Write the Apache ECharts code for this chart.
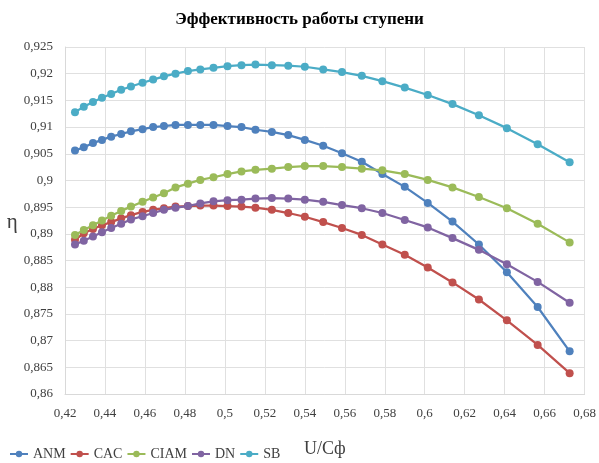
<!DOCTYPE html>
<html>
<head>
<meta charset="utf-8">
<script src="https://cdn.jsdelivr.net/npm/echarts@6/dist/echarts.min.js"></script>
<style>html,body{margin:0;padding:0;background:#fff}#c{width:599px;height:463px}</style>
</head>
<body>
<div id="c"></div>
<script>
var xValues = [0.4250,0.4294,0.4340,0.4385,0.4431,0.4481,0.4530,0.4588,0.4641,0.4695,0.4753,0.4815,0.4877,0.4943,0.5013,0.5083,0.5153,0.5235,0.5317,0.5400,0.5492,0.5586,0.5685,0.5788,0.5900,0.6015,0.6139,0.6271,0.6411,0.6565,0.6725];
var ANM  = [0.9056,0.9062,0.9070,0.9076,0.9082,0.9087,0.9092,0.9096,0.9100,0.9102,0.9104,0.9104,0.9104,0.9104,0.9102,0.9100,0.9095,0.9091,0.9085,0.9076,0.9065,0.9051,0.9035,0.9012,0.8988,0.8958,0.8923,0.8880,0.8828,0.8763,0.8680];
var CAC  = [0.8889,0.8901,0.8909,0.8916,0.8922,0.8929,0.8935,0.8941,0.8945,0.8948,0.8951,0.8952,0.8953,0.8953,0.8952,0.8951,0.8949,0.8945,0.8939,0.8932,0.8922,0.8911,0.8898,0.8880,0.8861,0.8837,0.8809,0.8777,0.8738,0.8692,0.8639];
var CIAM = [0.8898,0.8907,0.8916,0.8925,0.8934,0.8943,0.8951,0.8960,0.8968,0.8976,0.8987,0.8994,0.9001,0.9006,0.9012,0.9017,0.9020,0.9022,0.9025,0.9027,0.9027,0.9025,0.9022,0.9019,0.9012,0.9001,0.8987,0.8969,0.8948,0.8919,0.8884];
var DN   = [0.8880,0.8887,0.8895,0.8903,0.8911,0.8919,0.8927,0.8933,0.8939,0.8945,0.8949,0.8952,0.8957,0.8961,0.8963,0.8964,0.8966,0.8967,0.8966,0.8964,0.8960,0.8954,0.8948,0.8939,0.8926,0.8912,0.8892,0.8870,0.8843,0.8810,0.8771];
var SB   = [0.9128,0.9138,0.9147,0.9155,0.9162,0.9170,0.9176,0.9183,0.9189,0.9195,0.9200,0.9205,0.9208,0.9211,0.9214,0.9216,0.9217,0.9216,0.9215,0.9213,0.9208,0.9203,0.9196,0.9186,0.9174,0.9160,0.9143,0.9122,0.9098,0.9068,0.9034];
var seriesNames = ['ANM','CAC','CIAM','DN','SB'];
var seriesData = [ANM, CAC, CIAM, DN, SB];
var colors = ['#4F81BD','#C0504D','#9BBB59','#8064A2','#4BACC6'];
var titleText = 'Эффективность работы ступени';
var xName = 'U/Cф';
var yName = 'η';

function fmt(v){ return String(Number(v.toFixed(4))).replace('.', ','); }
var serif = '"Liberation Serif", "Times New Roman", serif';

var chart = echarts.init(document.getElementById('c'), null, {renderer:'canvas'});
chart.setOption({
  animation: false,
  color: colors,
  title: {
    text: titleText, left: 'center', top: 6,
    textStyle: {fontFamily: serif, fontSize: 17, fontWeight: 'bold', color: '#000'}
  },
  legend: {
    left: 4, top: 442, itemWidth: 18, itemHeight: 8, itemGap: 4,
    textStyle: {fontFamily: serif, fontSize: 14, color: '#404040'},
    data: seriesNames
  },
  grid: {left: 65, right: 9, top: 47, bottom: 53, containLabel: false},
  xAxis: {
    type: 'value', min: 0.42, max: 0.68, interval: 0.02,
    name: xName, nameLocation: 'middle', nameGap: 46,
    nameTextStyle: {fontFamily: serif, fontSize: 18, color: '#404040'},
    axisLine: {show: true, lineStyle: {color: '#d9d9d9', width: 1}},
    axisTick: {show: false},
    axisLabel: {formatter: fmt, fontFamily: serif, fontSize: 13, color: '#404040', margin: 13},
    splitLine: {show: true, lineStyle: {color: '#e0e0e0', width: 1}}
  },
  yAxis: {
    type: 'value', min: 0.86, max: 0.925, interval: 0.005,
    name: yName, nameLocation: 'middle', nameGap: 42, nameRotate: 0,
    nameTextStyle: {fontFamily: serif, fontSize: 21, color: '#404040', verticalAlign: 'top', lineHeight: 4},
    axisLine: {show: true, lineStyle: {color: '#d9d9d9', width: 1}},
    axisTick: {show: false},
    axisLabel: {formatter: fmt, fontFamily: serif, fontSize: 13, color: '#404040', margin: 12},
    splitLine: {show: true, lineStyle: {color: '#e0e0e0', width: 1}}
  },
  series: seriesNames.map(function(n, i){
    return {
      name: n, type: 'line',
      data: xValues.map(function(x, j){ return [x, seriesData[i][j]]; }),
      symbol: 'circle', symbolSize: 8, showSymbol: true,
      lineStyle: {width: 2.25, color: colors[i]},
      itemStyle: {color: colors[i]},
      z: 2 + i
    };
  })
});
</script>
</body>
</html>
